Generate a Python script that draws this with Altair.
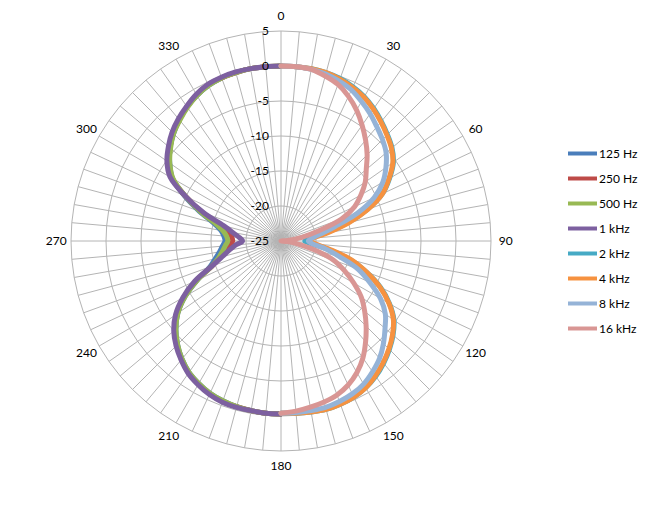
import altair as alt
import pandas as pd
import numpy as np

# ---------------- data ----------------
series_names = ["125 Hz", "250 Hz", "500 Hz", "1 kHz", "2 kHz", "4 kHz", "8 kHz", "16 kHz"]
series_colors = ["#4A7EBB", "#BE4B48", "#98B954", "#7D60A0", "#46AAC5", "#F69240", "#95B3D7", "#D99694"]

# low-frequency series cover 180..360 deg, high-frequency series 0..180 deg
left_angles = list(range(180, 361, 5))
right_angles = list(range(0, 181, 5))

v125 = [-0.3, -0.3, -0.4, -0.5, -0.7, -1.0, -1.5, -2.1, -3.0, -4.1, -5.4, -7.0, -9.2, -11.8, -14.2, -15.3, -16.1, -16.6, -17.0,
        -16.8, -16.3, -15.0, -12.6, -9.8, -7.1, -5.6, -4.3, -3.3, -2.4, -1.6, -1.0, -0.5, -0.2, -0.1, 0, 0, 0]
v250 = [-0.3, -0.3, -0.4, -0.5, -0.6, -0.9, -1.4, -2.0, -2.9, -4.0, -5.2, -6.9, -9.0, -11.7, -14.5, -16.0, -17.0, -17.6, -18.1,
        -17.9, -17.2, -15.8, -13.0, -10.0, -7.0, -5.5, -4.3, -3.2, -2.4, -1.6, -0.9, -0.4, -0.2, -0.1, 0, 0, 0]
v500 = [-0.3, -0.3, -0.4, -0.5, -0.7, -1.0, -1.5, -2.1, -3.0, -4.1, -5.4, -7.0, -9.2, -11.8, -14.5, -15.8, -16.5, -17.0, -17.4,
        -17.2, -16.6, -15.3, -12.8, -10.0, -7.2, -5.6, -4.4, -3.3, -2.5, -1.7, -1.0, -0.5, -0.2, -0.1, 0, 0, 0]
v1k = [-0.3, -0.3, -0.4, -0.4, -0.5, -0.8, -1.3, -1.9, -2.8, -3.8, -5.0, -6.6, -8.8, -11.4, -14.5, -16.3, -17.5, -18.5, -19.5,
       -19.0, -18.0, -16.5, -13.3, -10.0, -6.7, -5.1, -4.0, -3.0, -2.2, -1.5, -0.8, -0.3, -0.1, 0, 0, 0, 0]

v2k = [0, 0, 0, -0.1, -0.3, -0.7, -1.2, -1.9, -2.7, -3.5, -4.3, -5.4, -7.1, -9.0, -11.9, -15.3, -18.6, -21.0, -21.6,
       -20.6, -18.2, -14.8, -12.0, -9.3, -7.1, -5.3, -4.1, -3.1, -2.2, -1.4, -0.8, -0.4, -0.2, -0.1, -0.2, -0.3, -0.4]
v4k = [0, 0, 0, -0.1, -0.4, -0.8, -1.3, -2.0, -2.8, -3.6, -4.4, -5.5, -7.2, -9.0, -11.8, -15.0, -18.2, -20.4, -20.9,
       -20.0, -17.8, -14.6, -12.0, -9.4, -7.2, -5.4, -4.2, -3.2, -2.3, -1.5, -0.8, -0.4, -0.2, -0.1, -0.2, -0.3, -0.4]
v8k = [0, 0, -0.1, -0.3, -0.7, -1.2, -2.0, -2.8, -3.7, -4.5, -5.4, -6.7, -8.2, -10.3, -13.4, -17.0, -19.3, -20.6, -21.1,
       -20.5, -18.5, -16.3, -13.3, -11.0, -8.6, -6.8, -5.6, -4.3, -3.1, -2.2, -1.4, -0.9, -0.6, -0.4, -0.4, -0.4, -0.4]
v16k = [0, 0, -0.1, -0.6, -1.2, -2.2, -3.4, -4.8, -6.2, -7.6, -9.1, -10.3, -11.8, -13.4, -15.8, -19.5, -22.0, -24.0, -25.0,
        -24.0, -22.5, -20.0, -17.0, -15.0, -13.0, -11.0, -9.4, -7.8, -6.2, -4.6, -3.3, -2.3, -1.6, -1.2, -0.9, -0.6, -0.4]

ring_values = [-20, -15, -10, -5, 0, 5]
radial_labels = [-25, -20, -15, -10, -5, 0, 5]
angle_labels = [0, 30, 60, 90, 120, 150, 180, 210, 240, 270, 300, 330]
spoke_angles = list(range(0, 360, 5))
axis_min = -25

# ---------------- tables ----------------
series_values = [v125, v250, v500, v1k, v2k, v4k, v8k, v16k]
rows = []
for i, (name, vals) in enumerate(zip(series_names, series_values)):
    angs = left_angles if i < 4 else right_angles
    for a, v in zip(angs, vals):
        rows.append({"series": name, "angle": a, "value": v, "idx": i})
df = pd.DataFrame(rows)

ring_rows = [{"ring": rv, "angle": a} for rv in ring_values for a in range(0, 361, 5)]
rings_df = pd.DataFrame(ring_rows)
spokes_df = pd.DataFrame({"angle": spoke_angles})
alab_df = pd.DataFrame({"angle": angle_labels, "label": [str(a) for a in angle_labels]})
rlab_df = pd.DataFrame({"value": radial_labels, "label": [str(v) for v in radial_labels]})

# ---------------- scales (7 px per dB, centre at 281,241) ----------------
W, H = 648, 510
CX, CY, PX = 281, 241, 7.0
xs = alt.Scale(domain=[-CX / PX, (W - CX) / PX], range=[0, W], nice=False, zero=False)
ys = alt.Scale(domain=[-(H - CY) / PX, CY / PX], range=[H, 0], nice=False, zero=False)

FONT = "Lato"
GRID = "#B4B4B4"

rings = alt.Chart(rings_df).transform_calculate(
    r=f"datum.ring - ({axis_min})",
    x="datum.r*sin(datum.angle*PI/180)",
    y="datum.r*cos(datum.angle*PI/180)",
).mark_line(stroke=GRID, strokeWidth=1).encode(
    x=alt.X("x:Q", scale=xs, axis=None),
    y=alt.Y("y:Q", scale=ys, axis=None),
    detail="ring:N",
    order="angle:Q",
)

spokes = alt.Chart(spokes_df).transform_calculate(
    x0="0", y0="0",
    x1=f"{5 - axis_min}*sin(datum.angle*PI/180)",
    y1=f"{5 - axis_min}*cos(datum.angle*PI/180)",
).mark_rule(stroke=GRID, strokeWidth=1).encode(
    x=alt.X("x0:Q", scale=xs, axis=None),
    y=alt.Y("y0:Q", scale=ys, axis=None),
    x2="x1:Q",
    y2="y1:Q",
)

lines = alt.Chart(df).transform_calculate(
    r=f"datum.value - ({axis_min})",
    x="datum.r*sin(datum.angle*PI/180)",
    y="datum.r*cos(datum.angle*PI/180)",
).mark_line(strokeWidth=5, strokeJoin="round", strokeCap="round", interpolate="catmull-rom").encode(
    x=alt.X("x:Q", scale=xs, axis=None),
    y=alt.Y("y:Q", scale=ys, axis=None),
    color=alt.Color(
        "series:N",
        scale=alt.Scale(domain=series_names, range=series_colors),
        sort=series_names,
        legend=alt.Legend(
            title=None, orient="none", legendX=566, legendY=137,
            symbolType="stroke", symbolSize=841, symbolStrokeWidth=4,
            labelFont=FONT, labelFontSize=12, labelColor="#000000",
            rowPadding=-1, labelOffset=0, padding=0,
        ),
    ),
    order="angle:Q",
)

alabels = alt.Chart(alab_df).transform_calculate(
    x="32.1*sin(datum.angle*PI/180)",
    y="32.1*cos(datum.angle*PI/180)",
).mark_text(font=FONT, fontSize=12, color="#000000", align="center", baseline="middle").encode(
    x=alt.X("x:Q", scale=xs, axis=None),
    y=alt.Y("y:Q", scale=ys, axis=None),
    text="label:N",
)

rlabels = alt.Chart(rlab_df).transform_calculate(
    x="0",
    y=f"datum.value - ({axis_min})",
).mark_text(font=FONT, fontSize=12, color="#000000", align="right", baseline="middle", dx=-12).encode(
    x=alt.X("x:Q", scale=xs, axis=None),
    y=alt.Y("y:Q", scale=ys, axis=None),
    text="label:N",
)

chart = alt.layer(rings, spokes, lines, rlabels, alabels).properties(
    width=W, height=H, autosize=alt.AutoSizeParams(type="none"), padding=0,
    background="white",
).configure_view(stroke=None)

chart.save("out.html", embed_options={"renderer": "svg", "actions": False})
